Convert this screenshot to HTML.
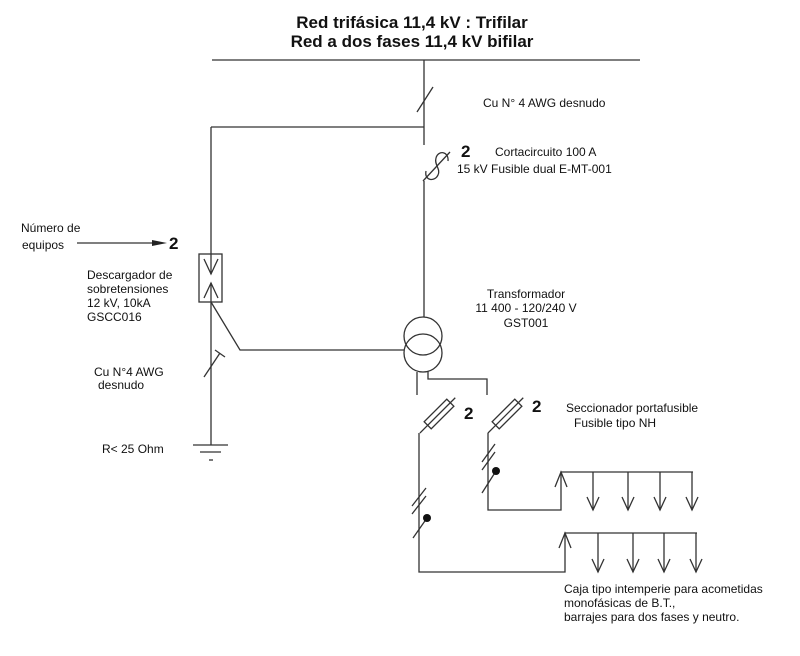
<!DOCTYPE html>
<html><head><meta charset="utf-8"><style>
html,body{margin:0;padding:0;background:#fff;}
svg{display:block;}
text{font-family:"Liberation Sans",Arial,sans-serif;fill:#111;}
.t{font-size:12px;}
.b{font-size:17px;font-weight:bold;}
</style></head><body>
<svg width="800" height="656" viewBox="0 0 800 656" xmlns="http://www.w3.org/2000/svg">
<g stroke="#333" stroke-width="1.3" fill="none" stroke-linecap="butt">
  <!-- top bus -->
  <line x1="212" y1="60" x2="640" y2="60"/>
  <!-- main vertical -->
  <line x1="424" y1="60" x2="424" y2="145"/>
  <line x1="417" y1="112" x2="433" y2="87"/>
  <!-- branch to arrester -->
  <line x1="211" y1="127" x2="424" y2="127"/>
  <line x1="211" y1="127" x2="211" y2="274"/>
  <!-- cutout fuse -->
  <path d="M448 161 C449 151 438 150 436 158 C434 165 441 169 438 175 C435 182 424 181 426 171"/>
  <line x1="423" y1="181" x2="450" y2="152"/>
  <line x1="424" y1="181" x2="424" y2="317"/>
  <!-- transformer -->
  <circle cx="423" cy="336" r="19"/>
  <circle cx="423" cy="353" r="19"/>
  <!-- arrester box -->
  <rect x="199" y="254" width="23" height="48"/>
  <polyline points="204,259 211,274 218,259"/>
  <polyline points="204,298 211,283 218,298"/>
  <line x1="211" y1="283" x2="211" y2="445"/>
  <!-- arrester to transformer -->
  <polyline points="211,302 240,350 404,350"/>
  <!-- slash with cap -->
  <line x1="204" y1="377" x2="220" y2="353"/>
  <line x1="215" y1="350" x2="225" y2="357"/>
  <!-- ground -->
  <line x1="193" y1="445" x2="228" y2="445"/>
  <line x1="200" y1="452" x2="221" y2="452"/>
  <line x1="209" y1="460" x2="213" y2="460"/>
  <!-- transformer leads -->
  <line x1="417" y1="372" x2="417" y2="395"/>
  <polyline points="428,371 428,379 487,379 487,395"/>
  <!-- NH fuse holders -->
  <g transform="translate(439,414) rotate(-45)">
    <rect x="-16" y="-5" width="32" height="10"/>
    <line x1="-27" y1="0" x2="23" y2="0"/>
  </g>
  <g transform="translate(507,414) rotate(-45)">
    <rect x="-16" y="-5" width="32" height="10"/>
    <line x1="-27" y1="0" x2="23" y2="0"/>
  </g>
  <!-- left circuit -->
  <polyline points="419,433 419,572 565,572 565,533 697,533"/>
  <line x1="412" y1="506" x2="426" y2="488"/>
  <line x1="412" y1="514" x2="426" y2="496"/>
  <line x1="413" y1="538" x2="427" y2="518"/>
  <polyline points="559,548 565,533 571,548"/>
  <line x1="598" y1="533" x2="598" y2="572"/>
  <polyline points="592,559 598,572 604,559"/>
  <line x1="633" y1="533" x2="633" y2="572"/>
  <polyline points="627,559 633,572 639,559"/>
  <line x1="664" y1="533" x2="664" y2="572"/>
  <polyline points="658,559 664,572 670,559"/>
  <line x1="696" y1="533" x2="696" y2="572"/>
  <polyline points="690,559 696,572 702,559"/>
  <!-- right circuit -->
  <polyline points="488,433 488,510 561,510 561,472 693,472"/>
  <line x1="482" y1="462" x2="495" y2="444"/>
  <line x1="482" y1="470" x2="495" y2="452"/>
  <line x1="482" y1="493" x2="496" y2="471"/>
  <polyline points="555,487 561,472 567,487"/>
  <line x1="593" y1="472" x2="593" y2="510"/>
  <polyline points="587,497 593,510 599,497"/>
  <line x1="628" y1="472" x2="628" y2="510"/>
  <polyline points="622,497 628,510 634,497"/>
  <line x1="660" y1="472" x2="660" y2="510"/>
  <polyline points="654,497 660,510 666,497"/>
  <line x1="692" y1="472" x2="692" y2="510"/>
  <polyline points="686,497 692,510 698,497"/>
  <!-- numero arrow -->
  <line x1="77" y1="243" x2="156" y2="243"/>
</g>
<polygon points="152,240 167,243 152,246" fill="#222"/>
<circle cx="427" cy="518" r="4" fill="#111"/>
<circle cx="496" cy="471" r="4" fill="#111"/>

<!-- titles -->
<text class="b" x="412" y="28" text-anchor="middle">Red trifásica 11,4 kV : Trifilar</text>
<text class="b" x="412" y="47" text-anchor="middle">Red a dos fases 11,4 kV bifilar</text>

<text class="t" x="483" y="107">Cu N° 4 AWG desnudo</text>
<text class="b" x="461" y="157">2</text>
<text class="t" x="495" y="156">Cortacircuito 100 A</text>
<text class="t" x="457" y="173">15 kV Fusible dual E-MT-001</text>

<text class="t" x="21" y="232">Número de</text>
<text class="t" x="22" y="249">equipos</text>
<text class="b" x="169" y="249">2</text>
<text class="t" x="87" y="279">Descargador de</text>
<text class="t" x="87" y="293">sobretensiones</text>
<text class="t" x="87" y="307">12 kV, 10kA</text>
<text class="t" x="87" y="321">GSCC016</text>
<text class="t" x="94" y="376">Cu N°4 AWG</text>
<text class="t" x="98" y="389">desnudo</text>
<text class="t" x="102" y="453">R&lt; 25 Ohm</text>

<text class="t" x="526" y="298" text-anchor="middle">Transformador</text>
<text class="t" x="526" y="312" text-anchor="middle">11 400 - 120/240 V</text>
<text class="t" x="526" y="327" text-anchor="middle">GST001</text>

<text class="b" x="464" y="419">2</text>
<text class="b" x="532" y="412">2</text>
<text class="t" x="566" y="412">Seccionador portafusible</text>
<text class="t" x="574" y="427">Fusible tipo NH</text>

<text class="t" x="564" y="593">Caja tipo intemperie para acometidas</text>
<text class="t" x="564" y="607">monofásicas de B.T.,</text>
<text class="t" x="564" y="621">barrajes para dos fases y neutro.</text>
</svg>
</body></html>
